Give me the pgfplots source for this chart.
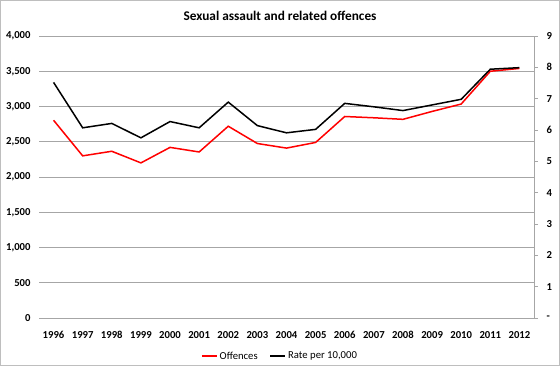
\documentclass[border=0pt]{standalone}
\usepackage{fontspec}
\setmainfont{Carlito}
\usepackage{pgfplots}
\pgfplotsset{compat=1.18}
\definecolor{gridgray}{RGB}{166,166,166}
\definecolor{framegray}{RGB}{190,190,190}
\definecolor{offred}{RGB}{255,0,0}
\pgfplotsset{
  /pgf/number format/.cd, 1000 sep={,}, assume math mode=true,
}
\newcommand{\tickfont}{\fontsize{10.67bp}{12bp}\selectfont\bfseries}
\newcommand{\legfont}{\fontsize{10.67bp}{12bp}\selectfont}
\begin{document}
\begin{tikzpicture}
\useasboundingbox (0,0) rectangle (560bp,366bp);
\draw[framegray, line width=1bp] (0.5bp,0.5bp) rectangle (559.5bp,365.5bp);
\begin{axis}[
  at={(39bp,48bp)}, anchor=south west, scale only axis,
  width=495bp, height=282bp,
  xmin=-0.5, xmax=16.5, ymin=0, ymax=4000,
  xtick={0,1,2,3,4,5,6,7,8,9,10,11,12,13,14,15,16},
  xticklabels={1996,1997,1998,1999,2000,2001,2002,2003,2004,2005,2006,2007,2008,2009,2010,2011,2012},
  ytick={0,500,1000,1500,2000,2500,3000,3500,4000},
  ymajorgrids, grid style={gridgray, line width=0.9bp},
  axis line style={draw=none}, major tick length=0pt,
  tick label style={font=\tickfont},
  xticklabel style={yshift=-10bp},
  yticklabel style={xshift=-5bp},
  clip=false,
  legend style={draw=none, fill=none, legend columns=2, at={(0.487,-0.135)}, anchor=center,
    font=\legfont, /tikz/every even column/.append style={column sep=10bp},
    inner sep=0pt},
  legend image code/.code={\draw[#1] (0bp,0bp) -- (15bp,0bp);},
]
\addplot[offred, line width=1.5bp] coordinates {
(0,2805) (1,2300) (2,2365) (3,2200) (4,2420) (5,2355) (6,2720) (7,2475) (8,2410)
(9,2490) (10,2858) (11,2840) (12,2818) (13,2930) (14,3035) (15,3500) (16,3540)
};
\addlegendentry{Offences}
\addlegendimage{black, line width=1.5bp}
\addlegendentry{Rate per 10,000}
\end{axis}
\begin{axis}[
  at={(39bp,48bp)}, anchor=south west, scale only axis,
  width=495bp, height=282bp,
  xmin=-0.5, xmax=16.5, ymin=0, ymax=9,
  axis y line*=right, axis x line=none,
  ytick={0,1,2,3,4,5,6,7,8,9},
  yticklabels={-,1,2,3,4,5,6,7,8,9},
  axis line style={gridgray, line width=0.9bp},
  ytick style={gridgray, line width=0.9bp},
  tick align=outside, major tick length=4bp,
  tick label style={font=\tickfont},
  yticklabel style={anchor=west, xshift=5bp},
  clip=false,
]
\addplot[black, line width=1.5bp] coordinates {
(0,7.52) (1,6.07) (2,6.21) (3,5.75) (4,6.27) (5,6.07) (6,6.89) (7,6.14) (8,5.91)
(9,6.02) (10,6.85) (11,6.74) (12,6.62) (13,6.80) (14,6.98) (15,7.94) (16,7.99)
};
\end{axis}
\node[font=\fontsize{13.3bp}{15bp}\selectfont\bfseries] at (280bp,350bp) {Sexual assault and related offences};
\end{tikzpicture}
\end{document}
